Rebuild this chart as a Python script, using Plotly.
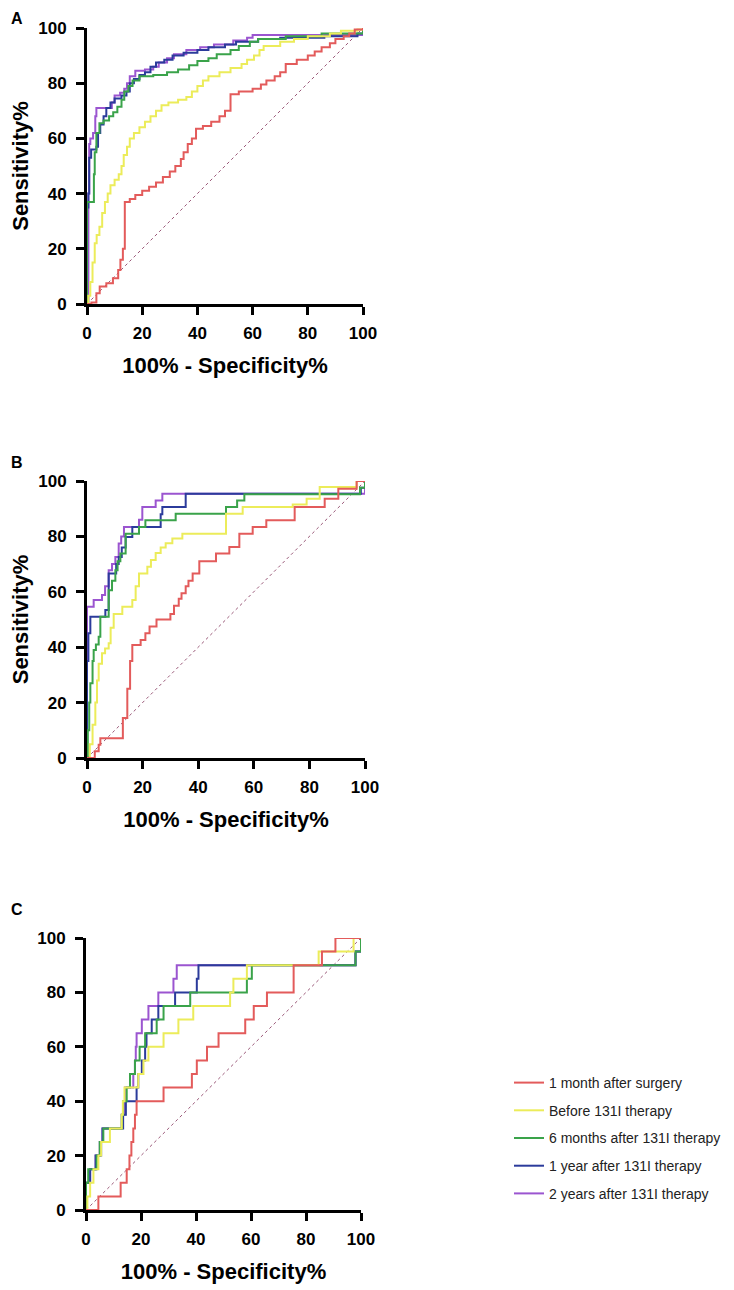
import plotly.graph_objects as go

# ---------------- data ----------------
series_names = ["1 month after surgery", "Before 131I therapy", "6 months after 131I therapy",
                "1 year after 131I therapy", "2 years after 131I therapy"]
series_colors = ["#e35b5b", "#ecec5a", "#3aa34a", "#2b3b9b", "#9b55d0"]
ticks = [0, 20, 40, 60, 80, 100]
tick_labels = ["0", "20", "40", "60", "80", "100"]
diag_x = [0, 100]
diag_y = [0, 100]

# Panel A
a_red_x = [0, 1.6, 3.4, 4.6, 7, 9.4, 11.3, 12.1, 13, 13.7, 15.5, 17.5, 20, 22.5, 25, 27.5, 30, 32, 34, 35, 36.5, 38, 39.5, 42, 45, 48, 50, 52, 55, 60, 63, 65, 68, 70, 72, 76, 80, 82.5, 85, 88, 90, 93, 95, 97, 100]
a_red_y = [0, 0.5, 3.9, 6.3, 7.5, 9.3, 12.3, 16, 20, 37, 38, 39.5, 41, 42.5, 44, 46, 48, 50, 52.5, 55, 58, 60, 63.5, 64.5, 66, 68, 70, 76, 77, 78, 79.5, 81, 82.5, 84, 87, 88.5, 90, 91.5, 93, 94.5, 96, 97, 98, 99.5, 100]

a_yel_x = [0, 0.5, 1.2, 2, 2.8, 3.5, 4.5, 5.5, 6.5, 7.5, 8.5, 10, 11.5, 12.5, 13.3, 14.5, 15.5, 17, 19, 21, 23, 25, 27, 29.5, 33, 36, 38, 40, 42, 44, 48, 52, 56, 58, 60.5, 62.5, 64, 70, 75, 80, 88, 92, 98, 100]
a_yel_y = [0, 3, 8, 15, 22, 25, 28, 33, 37, 40, 43, 45, 47, 50, 54, 57, 60, 62, 64, 66, 68, 70, 72, 73, 74, 75, 77, 79, 81, 82.5, 84, 85.5, 87, 88.5, 90, 92, 93.5, 95, 96, 97, 98, 99, 99.5, 100]

a_grn_x = [0, 0, 2.2, 2.5, 2.8, 3.4, 4.5, 6, 8, 9.5, 11, 12.5, 13.5, 15, 16.5, 19, 24, 29, 33, 37, 40, 44, 47, 52, 55, 59, 62, 72, 85, 100, 100]
a_grn_y = [0, 37, 37, 47, 55, 62, 65.5, 66.5, 68, 69.5, 71.5, 74, 77, 79, 81, 82.5, 83, 84, 85, 86.5, 88, 89, 90.5, 92, 93.5, 95, 96, 97, 98, 99, 100]

a_blu_x = [0, 0, 0.5, 0.8, 1.5, 3.4, 4, 4.8, 6, 7, 8.5, 10, 12.5, 14.3, 15.5, 17, 19, 21, 23, 25, 28, 31, 35, 40, 44, 50, 54, 62, 70, 86, 98, 100]
a_blu_y = [0, 35, 40, 53, 56, 57, 62, 65, 68, 71, 73, 74.5, 75.5, 77, 80, 81.5, 83, 84, 86, 87.5, 88.5, 90, 91, 92, 93, 94, 95, 96, 96.5, 97, 98, 100]

a_pur_x = [0, 0.5, 0.8, 1.2, 2.2, 3, 3.4, 8, 9, 10, 12, 13.5, 14.5, 15.5, 17.5, 21, 24, 26, 29, 31.5, 36, 41, 46, 53, 58, 60, 100, 100]
a_pur_y = [0, 40, 58, 60, 62, 68, 71, 71, 73, 75.5, 76.5, 78, 80, 82.5, 84.5, 85, 86, 87.5, 89, 90.5, 92, 93, 94, 95.5, 96.5, 97.5, 98.5, 100]

# Panel B
b_red_x = [0, 2.8, 4.2, 4.8, 12.9, 14.5, 15.5, 16.3, 19.3, 21, 22.5, 25, 30, 31.3, 33, 34, 35.5, 36.5, 38, 40.4, 46.4, 51.2, 54.8, 59.6, 64.5, 74.7, 85.5, 90.4, 97, 100]
b_red_y = [0, 2.4, 4.8, 7.1, 14.4, 25, 35, 40.8, 42.6, 45, 47.5, 50, 52, 55, 57.5, 59.5, 62, 64, 66.6, 71, 73.8, 76.2, 81, 83.4, 85.8, 90.6, 93.6, 97.2, 100, 100]

b_yel_x = [0, 1, 2, 3, 3.6, 4.2, 5.4, 6.5, 7.8, 8.5, 9.6, 12.7, 16.3, 17.5, 18.7, 21.7, 23, 24.7, 26.5, 28.3, 30.7, 34.3, 49.4, 50, 56, 74, 79, 83.7, 97, 100]
b_yel_y = [0, 5, 12, 20, 28, 34, 37.8, 39.5, 41.4, 47, 52, 54.6, 57, 62, 66.6, 69, 71.5, 74, 76, 77.5, 79.2, 81, 81, 88.2, 90.6, 91.5, 93.6, 97.8, 100, 100]

b_grn_x = [0, 0.3, 0.8, 1.2, 2, 2.4, 3.2, 4.2, 4.8, 7.2, 7.8, 9, 10.2, 11, 12, 13.9, 18.7, 21, 31.9, 50, 54, 56.6, 98.2, 100]
b_grn_y = [0, 10, 20, 27, 35, 39, 41, 43.8, 51, 51, 60.6, 64, 67.8, 71, 73.8, 81, 83.4, 85.8, 88.2, 90.6, 93, 95.2, 97.6, 100]

b_blu_x = [0, 0, 0.5, 1.2, 4.2, 6.6, 7.8, 9.6, 10.5, 11.4, 12.5, 13.9, 16.3, 25.9, 26.5, 27.1, 34.9, 35.5, 97, 98.5, 100]
b_blu_y = [0, 35, 45, 51, 51, 53.4, 66.6, 66.6, 70, 72.6, 76, 79.8, 83.4, 83.4, 88, 90.6, 90.6, 95.4, 95.4, 97.6, 100]

b_pur_x = [0, 0, 2.4, 5.4, 6.5, 7.8, 9, 10.2, 11.4, 12.3, 13.3, 18.7, 19.9, 24.7, 27.1, 97, 100]
b_pur_y = [0, 54.6, 57, 58.8, 62, 67.8, 70, 72.6, 77.4, 80, 83.4, 86, 90.6, 93, 95.4, 95.4, 100]

# Panel C
c_red_x = [0, 4.5, 12.6, 14.8, 15.8, 16.5, 17.2, 17.8, 18.4, 28.2, 38.5, 40.3, 44, 48.2, 57.9, 61, 65.8, 75.5, 85.8, 90.7, 100]
c_red_y = [0, 5, 10, 15, 20, 25, 30, 35, 40, 45, 50, 55, 60, 65, 70, 75, 80, 90, 95, 100, 100]

c_yel_x = [0, 0.5, 1.5, 2.7, 4.5, 5.5, 8.7, 13, 13.4, 14, 19, 20.9, 22.7, 28.2, 33.6, 39, 52.4, 53.6, 58.5, 84.6, 97.3, 100]
c_yel_y = [0, 5, 10, 15, 20, 25, 30, 35, 40, 45, 50, 55, 60, 65, 70, 75, 80, 85, 90, 95, 100, 100]

c_grn_x = [0, 0, 0.8, 3.9, 5, 6.3, 13, 13.5, 14.8, 16, 17.8, 19.5, 21.5, 25.7, 28.2, 37.9, 58.5, 60.3, 98, 100]
c_grn_y = [0, 10, 15, 20, 25, 30, 35, 40, 45, 50, 55, 60, 65, 70, 75, 80, 85, 90, 95, 100]

c_blu_x = [0, 0, 1.5, 3.5, 5.5, 6, 13.5, 14.5, 18.4, 19, 20.3, 21.5, 22, 23.9, 26.3, 32.4, 40.3, 40.9, 98, 100]
c_blu_y = [0, 10, 15, 20, 25, 30, 35, 40, 45, 50, 55, 60, 65, 70, 75, 80, 85, 90, 95, 100]

c_pur_x = [0, 0, 1.5, 3.5, 5, 6, 13, 14, 14.2, 17.2, 17.8, 18.1, 18.4, 20.3, 22.7, 26.3, 31.8, 33, 98, 100]
c_pur_y = [0, 10, 15, 20, 25, 30, 35, 40, 45, 50, 55, 60, 65, 70, 75, 80, 85, 90, 95, 100]

panels = [
    ("A", [(a_red_x, a_red_y), (a_yel_x, a_yel_y), (a_grn_x, a_grn_y), (a_blu_x, a_blu_y), (a_pur_x, a_pur_y)]),
    ("B", [(b_red_x, b_red_y), (b_yel_x, b_yel_y), (b_grn_x, b_grn_y), (b_blu_x, b_blu_y), (b_pur_x, b_pur_y)]),
    ("C", [(c_red_x, c_red_y), (c_yel_x, c_yel_y), (c_grn_x, c_grn_y), (c_blu_x, c_blu_y), (c_pur_x, c_pur_y)]),
]

# ---------------- layout geometry ----------------
W, H = 734, 1290
OFF = 8  # page body margin shifts the figure by 8 px
px_dom = {"A": (87, 363, 28, 304), "B": (87, 365, 481, 758), "C": (86, 361, 938, 1210)}
label_top = {"A": 8, "B": 455, "C": 902}

FONT = "Liberation Sans, Arial, Helvetica, sans-serif"

fig = go.Figure()
layout = dict(width=W, height=H, margin=dict(l=0, r=0, t=0, b=0, pad=0, autoexpand=False),
              paper_bgcolor="white", plot_bgcolor="white", showlegend=True)
annotations = []

draw_order = [4, 3, 2, 1, 0]
for pi, (name, curves) in enumerate(panels):
    sfx = "" if pi == 0 else str(pi + 1)
    xa, ya = "x" + sfx, "y" + sfx
    # chance diagonal
    fig.add_trace(go.Scatter(x=diag_x, y=diag_y, mode="lines", xaxis=xa, yaxis=ya,
                             line=dict(color="#9a5878", width=1, dash="dot"),
                             showlegend=False, hoverinfo="skip"))
    for si in draw_order:
        cx, cy = curves[si]
        fig.add_trace(go.Scatter(x=cx, y=cy, mode="lines", xaxis=xa, yaxis=ya,
                                 name=series_names[si], legendgroup=series_names[si],
                                 legendrank=si + 1, showlegend=(pi == 2),
                                 line=dict(color=series_colors[si], width=2, shape="hv")))
    x0, x1, y0, y1 = [v - OFF for v in px_dom[name]]
    common = dict(range=[0, 100], tickvals=ticks, ticktext=tick_labels, showgrid=False,
                  zeroline=False, showline=True, linecolor="black", linewidth=3,
                  ticks="outside", ticklen=8, tickwidth=3, tickcolor="black", automargin=False,
                  tickfont=dict(family=FONT, size=17, color="black", weight="bold"))
    layout["xaxis" + sfx] = dict(common, domain=[x0 / W, x1 / W], anchor=ya, ticklabelstandoff=4,
                                 title=dict(text="100% - Specificity%", standoff=16,
                                            font=dict(family=FONT, size=22, color="black", weight="bold")))
    yax = dict(common, domain=[1 - y1 / H, 1 - y0 / H], anchor=xa, ticklabelstandoff=6)
    if name != "C":
        yax["title"] = dict(text="Sensitivity%", standoff=9,
                            font=dict(family=FONT, size=22, color="black", weight="bold"))
    layout["yaxis" + sfx] = yax
    annotations.append(dict(text=name, x=(9 - OFF) / W, y=1 - max(label_top[name] - OFF - 3, 0) / H,
                            xref="paper", yref="paper",
                            xanchor="left", yanchor="top", showarrow=False,
                            font=dict(family=FONT, size=16, color="black", weight="bold")))

layout["annotations"] = annotations
layout["legend"] = dict(x=(509 - OFF) / W, y=1 - (1067 - OFF) / H, xanchor="left", yanchor="top",
                        font=dict(family=FONT, size=14, color="#222222"),
                        tracegroupgap=6.5, bgcolor="rgba(0,0,0,0)", itemwidth=30)
fig.update_layout(**layout)
fig.write_html("out.html")
